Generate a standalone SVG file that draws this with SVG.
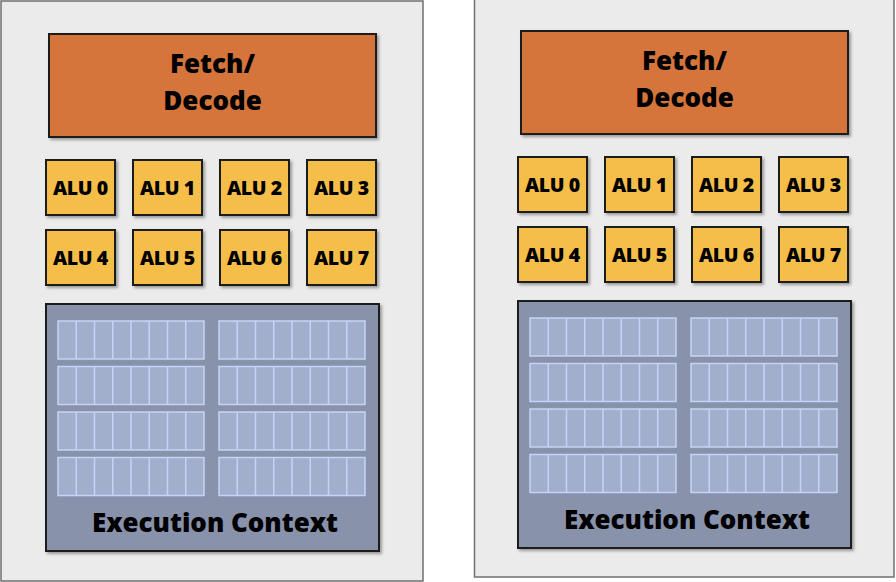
<svg xmlns="http://www.w3.org/2000/svg" xmlns:xlink="http://www.w3.org/1999/xlink" width="896" height="582" viewBox="0 0 896 582">
  <style>
    .panel { fill: #ebebeb; stroke: #6f6f6f; stroke-width: 1.5; }
    .fetch { fill: #d5743a; stroke: #1a1a1a; stroke-width: 2; filter: url(#shadow); }
    .alu { fill: #f5be48; stroke: #1a1a1a; stroke-width: 2; filter: url(#shadow); }
    .ctx { fill: #8892ab; stroke: #1a1a1a; stroke-width: 2; filter: url(#shadow); }
    .reg { fill: #a1afcd; stroke: #c6d3f6; stroke-width: 1.5; }
    .regline { stroke: #c6d3f6; stroke-width: 1.5; }
    text { font-family: "Open Sans", "Liberation Sans", Arial, sans-serif; font-weight: 800; fill: #000; text-anchor: middle; }
    .big { font-size: 26px; }
    .aluT { font-size: 19.5px; letter-spacing: -0.4px; }
    .ctxT { font-size: 26px; }
  </style>
  <defs>
    <filter id="shadow" x="-10%" y="-10%" width="125%" height="125%">
      <feDropShadow dx="2" dy="2" stdDeviation="1.5" flood-color="#000" flood-opacity="0.35"/>
    </filter>
    <!-- one bank of 8 register cells -->
    <g id="regbank">
      <rect class="reg" x="0" y="0" width="146" height="38"/>
      <path class="regline" d="M18.25 0V38M36.5 0V38M54.75 0V38M73 0V38M91.25 0V38M109.5 0V38M127.75 0V38"/>
    </g>
  </defs>

  <!-- left core -->
  <g id="core-left">
    <rect class="panel" x="1" y="1" width="422" height="580"/>
    <g id="fetch-left">
      <rect class="fetch" x="49" y="34" width="327" height="103"/>
      <text class="big" x="212.5" y="73">Fetch/</text>
      <text class="big" x="212.5" y="110">Decode</text>
    </g>
    <g id="alu0-left"><rect class="alu" x="46" y="160" width="69" height="55"/><text class="aluT" x="80.5" y="194.5">ALU 0</text></g>
    <g id="alu1-left"><rect class="alu" x="133" y="160" width="69" height="55"/><text class="aluT" x="167.5" y="194.5">ALU 1</text></g>
    <g id="alu2-left"><rect class="alu" x="220" y="160" width="69" height="55"/><text class="aluT" x="254.5" y="194.5">ALU 2</text></g>
    <g id="alu3-left"><rect class="alu" x="307" y="160" width="69" height="55"/><text class="aluT" x="341.5" y="194.5">ALU 3</text></g>
    <g id="alu4-left"><rect class="alu" x="46" y="230" width="69" height="55"/><text class="aluT" x="80.5" y="264.5">ALU 4</text></g>
    <g id="alu5-left"><rect class="alu" x="133" y="230" width="69" height="55"/><text class="aluT" x="167.5" y="264.5">ALU 5</text></g>
    <g id="alu6-left"><rect class="alu" x="220" y="230" width="69" height="55"/><text class="aluT" x="254.5" y="264.5">ALU 6</text></g>
    <g id="alu7-left"><rect class="alu" x="307" y="230" width="69" height="55"/><text class="aluT" x="341.5" y="264.5">ALU 7</text></g>
    <g id="context-left">
      <rect class="ctx" x="46" y="304" width="333" height="247"/>
      <use xlink:href="#regbank" x="58" y="321"/>
      <use xlink:href="#regbank" x="219" y="321"/>
      <use xlink:href="#regbank" x="58" y="366.5"/>
      <use xlink:href="#regbank" x="219" y="366.5"/>
      <use xlink:href="#regbank" x="58" y="412"/>
      <use xlink:href="#regbank" x="219" y="412"/>
      <use xlink:href="#regbank" x="58" y="457.5"/>
      <use xlink:href="#regbank" x="219" y="457.5"/>
      <text class="ctxT" x="215" y="532" textLength="246" lengthAdjust="spacingAndGlyphs">Execution Context</text>
    </g>
  </g>

  <!-- right core -->
  <g id="core-right">
    <rect class="panel" x="474.5" y="-2" width="419.5" height="579"/>
    <g transform="translate(472,-3)">
      <g id="fetch-right">
        <rect class="fetch" x="49" y="34" width="327" height="103"/>
        <text class="big" x="212.5" y="73">Fetch/</text>
        <text class="big" x="212.5" y="110">Decode</text>
      </g>
      <g id="alu0-right"><rect class="alu" x="46" y="160" width="69" height="55"/><text class="aluT" x="80.5" y="194.5">ALU 0</text></g>
      <g id="alu1-right"><rect class="alu" x="133" y="160" width="69" height="55"/><text class="aluT" x="167.5" y="194.5">ALU 1</text></g>
      <g id="alu2-right"><rect class="alu" x="220" y="160" width="69" height="55"/><text class="aluT" x="254.5" y="194.5">ALU 2</text></g>
      <g id="alu3-right"><rect class="alu" x="307" y="160" width="69" height="55"/><text class="aluT" x="341.5" y="194.5">ALU 3</text></g>
      <g id="alu4-right"><rect class="alu" x="46" y="230" width="69" height="55"/><text class="aluT" x="80.5" y="264.5">ALU 4</text></g>
      <g id="alu5-right"><rect class="alu" x="133" y="230" width="69" height="55"/><text class="aluT" x="167.5" y="264.5">ALU 5</text></g>
      <g id="alu6-right"><rect class="alu" x="220" y="230" width="69" height="55"/><text class="aluT" x="254.5" y="264.5">ALU 6</text></g>
      <g id="alu7-right"><rect class="alu" x="307" y="230" width="69" height="55"/><text class="aluT" x="341.5" y="264.5">ALU 7</text></g>
      <g id="context-right">
        <rect class="ctx" x="46" y="304" width="333" height="247"/>
        <use xlink:href="#regbank" x="58" y="321"/>
        <use xlink:href="#regbank" x="219" y="321"/>
        <use xlink:href="#regbank" x="58" y="366.5"/>
        <use xlink:href="#regbank" x="219" y="366.5"/>
        <use xlink:href="#regbank" x="58" y="412"/>
        <use xlink:href="#regbank" x="219" y="412"/>
        <use xlink:href="#regbank" x="58" y="457.5"/>
        <use xlink:href="#regbank" x="219" y="457.5"/>
        <text class="ctxT" x="215" y="532" textLength="246" lengthAdjust="spacingAndGlyphs">Execution Context</text>
      </g>
    </g>
  </g>

  <!-- no connectors in this figure -->
  <g id="connectors"/>
</svg>
